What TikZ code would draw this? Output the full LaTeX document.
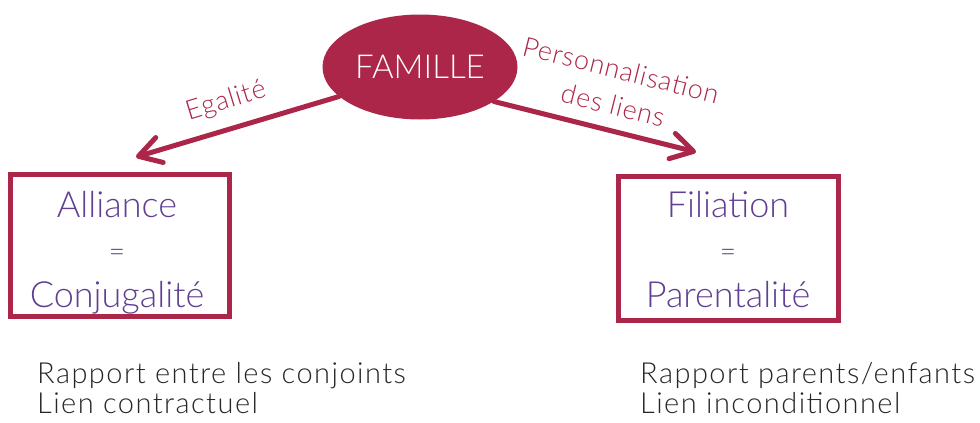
\documentclass[tikz,border=0pt]{standalone}
\usepackage{fontspec}
\setmainfont{Lato}[UprightFont=* Light]
\usetikzlibrary{arrows.meta,shapes.geometric}
\definecolor{famred}{HTML}{AB2649}
\definecolor{boxtext}{HTML}{603E92}
\definecolor{bodytext}{HTML}{262626}
\begin{document}
\begin{tikzpicture}[x=1pt,y=-1pt,
  linkarrow/.style={draw=famred,line width=5pt,line cap=round,line join=round,
    -{Straight Barb[length=22pt,width=26pt,line cap=round,line join=round]}},
  framebox/.style={draw=famred,line width=5pt,minimum width=219pt,minimum height=142pt,inner sep=0pt},
  boxword/.style={text=boxtext,font=\fontsize{36}{40}\selectfont,anchor=base,inner sep=0pt},
  boxeq/.style={text=boxtext,font=\fontsize{28}{30}\selectfont,anchor=base,inner sep=0pt},
  bodyline/.style={text=bodytext,font=\fontsize{29}{32}\selectfont\addfontfeatures{LetterSpace=5},anchor=base west,inner sep=0pt},
  linklabel/.style={text=famred,font=\fontsize{27}{30}\selectfont\addfontfeatures{LetterSpace=3},inner sep=0pt}
]
\useasboundingbox (0,0) rectangle (980,423);
% central ellipse
\node[ellipse,fill=famred,minimum width=195pt,minimum height=105pt,inner sep=0pt,
  text=white,font=\fontsize{33}{36}\selectfont] (fam) at (420,67) {FAMILLE};
% boxes
\node[framebox] (alli) at (120,245.5) {};
\node[framebox,minimum width=220pt,minimum height=144pt] (fili) at (728.5,248.5) {};
% arrow tips
\coordinate (tipL) at (136,157);
\coordinate (tipR) at (696,152);
\draw[linkarrow] (fam.200) -- (tipL);
\draw[linkarrow] (fam.335) -- (tipR);
% arrow labels
\node[linklabel,rotate=17] (lblL) at (226,101) {Egalité};
\node[linklabel,rotate=-14] (lblR1) at (621,70) {Personnalisation};
\node[linklabel,rotate=-14] (lblR2) at (613,105) {des liens};
% box texts
\node[boxword] (a1) at (117,217) {Alliance};
\node[boxeq] (a2) at (117,261) {=};
\node[boxword] (a3) at (117,307) {Conjugalité};
\node[boxword] (f1) at (728,217) {Filiation};
\node[boxeq] (f2) at (728,261) {=};
\node[boxword] (f3) at (728,307) {Parentalité};
% bottom texts
\node[bodyline] (b1) at (37,383) {Rapport entre les conjoints};
\node[bodyline] (b2) at (37,413) {Lien contractuel};
\node[bodyline] (c1) at (640,383) {Rapport parents/enfants};
\node[bodyline] (c2) at (640,413) {Lien inconditionnel};
\end{tikzpicture}
\end{document}
